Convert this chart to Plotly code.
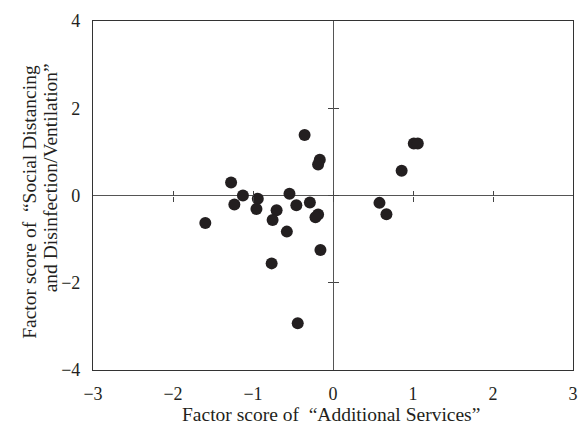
import plotly.graph_objects as go

# Factor scores
additional_services = [-0.355, -0.165, -0.186, 1.01, 1.06, 0.858, -1.274, -1.126, -0.94, -0.957,
                       -1.233, -0.544, -0.458, -0.289, -0.705, -0.755, -1.596, -0.186, -0.219,
                       -0.577, -0.157, -0.767, -0.441, 0.581, 0.668]
social_distancing = [1.387, 0.82, 0.713, 1.19, 1.19, 0.567, 0.299, 0.0, -0.077, -0.307,
                     -0.207, 0.038, -0.222, -0.161, -0.337, -0.559, -0.628, -0.437, -0.498,
                     -0.828, -1.249, -1.556, -2.927, -0.169, -0.429]

x_ticks = [-3, -2, -1, 0, 1, 2, 3]
y_ticks = [-4, -2, 0, 2, 4]
x_inner_ticks = [-2, -1, 0, 1, 2]
y_inner_ticks = [-2, 0, 2]

x_title = "Factor score of  \u201cAdditional Services\u201d"
y_title_line1 = "Factor score of  \u201cSocial Distancing"
y_title_line2 = "and Disinfection/Ventilation\u201d"

FONT = "Liberation Serif"
INK = "#231f20"
TICK_SIZE = 18
TITLE_SIZE = 19.5

fig = go.Figure()
fig.add_trace(go.Scatter(
    x=additional_services, y=social_distancing, mode="markers",
    marker=dict(size=12, color=INK, line=dict(width=0)),
    showlegend=False, hoverinfo="x+y",
))
# invisible traces to anchor the tick-only axes along the origin lines
for xa, ya in [("x2", "y"), ("x3", "y"), ("x", "y2"), ("x", "y3")]:
    fig.add_trace(go.Scatter(x=[None], y=[None], xaxis=xa, yaxis=ya,
                             mode="markers", showlegend=False, hoverinfo="skip"))

common_tick_axis = dict(showticklabels=False, showline=False, zeroline=False,
                        showgrid=False, ticklen=5, tickwidth=1, tickcolor="#444",
                        tickmode="array")

fig.update_layout(
    width=581, height=427,
    margin=dict(l=93, r=3, t=21, b=57),
    paper_bgcolor="white", plot_bgcolor="white",
    font=dict(family=FONT, size=TICK_SIZE, color=INK),
    xaxis=dict(
        range=[-3, 3], tickmode="array", tickvals=x_ticks, ticks="",
        showline=True, mirror=True, linecolor="#333", linewidth=1.2,
        showgrid=False, zeroline=True, zerolinecolor="#555", zerolinewidth=1,
        tickfont=dict(family=FONT, size=TICK_SIZE, color=INK),
        ticklabeloverflow="allow", ticklabelstandoff=7,
    ),
    yaxis=dict(
        range=[-4, 4], tickmode="array", tickvals=y_ticks, ticks="",
        showline=True, mirror=True, linecolor="#333", linewidth=1.2,
        showgrid=False, zeroline=True, zerolinecolor="#555", zerolinewidth=1,
        tickfont=dict(family=FONT, size=TICK_SIZE, color=INK),
        ticklabeloverflow="allow", ticklabelstandoff=8,
    ),
    xaxis2=dict(overlaying="x", matches="x", anchor="free", position=0.5,
                ticks="outside", tickvals=x_inner_ticks, **common_tick_axis),
    xaxis3=dict(overlaying="x", matches="x", anchor="free", position=0.5,
                ticks="inside", tickvals=x_inner_ticks, **common_tick_axis),
    yaxis2=dict(overlaying="y", matches="y", anchor="free", position=0.5,
                ticks="outside", tickvals=y_inner_ticks, **common_tick_axis),
    yaxis3=dict(overlaying="y", matches="y", anchor="free", position=0.5,
                ticks="inside", tickvals=y_inner_ticks, **common_tick_axis),
    annotations=[
        dict(text=x_title, xref="paper", yref="paper", x=0.495, y=-0.128,
             xanchor="center", yanchor="middle", showarrow=False,
             borderpad=0,
             font=dict(family=FONT, size=TITLE_SIZE, color=INK)),
        dict(text=y_title_line1, xref="paper", yref="paper", x=-0.134, y=0.481,
             xanchor="center", yanchor="middle", textangle=-90, showarrow=False,
             borderpad=0,
             font=dict(family=FONT, size=TITLE_SIZE, color=INK)),
        dict(text=y_title_line2, xref="paper", yref="paper", x=-0.089, y=0.550,
             xanchor="center", yanchor="middle", textangle=-90, showarrow=False,
             borderpad=0,
             font=dict(family=FONT, size=TITLE_SIZE, color=INK)),
    ],
)

fig.write_html("out.html")
